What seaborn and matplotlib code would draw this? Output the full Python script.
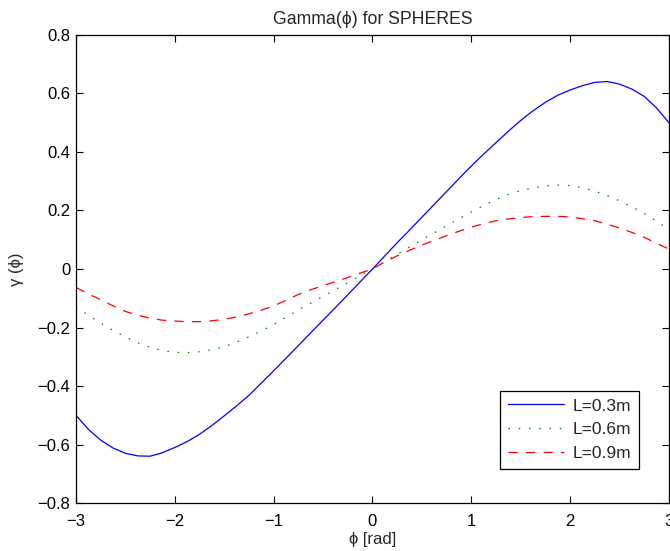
import numpy as np
import pandas as pd
import matplotlib
matplotlib.use("Agg")
import matplotlib.pyplot as plt
import seaborn as sns

phi = [-3.0, -2.875, -2.75, -2.625, -2.5, -2.375, -2.25, -2.125, -2.0, -1.875, -1.75, -1.625,
       -1.5, -1.375, -1.25, -1.125, -1.0, -0.875, -0.75, -0.625, -0.5, -0.375, -0.25, -0.125,
       0.0, 0.125, 0.25, 0.375, 0.5, 0.625, 0.75, 0.875, 1.0, 1.125, 1.25, 1.375,
       1.5, 1.625, 1.75, 1.875, 2.0, 2.125, 2.25, 2.375, 2.5, 2.625, 2.75, 2.875, 3.0]
gamma_03 = [-0.500, -0.548, -0.585, -0.612, -0.630, -0.639, -0.640, -0.628, -0.610, -0.590, -0.565, -0.535,
            -0.502, -0.468, -0.432, -0.390, -0.348, -0.305, -0.262, -0.218, -0.175, -0.132, -0.088, -0.044,
            0.000, 0.045, 0.090, 0.133, 0.177, 0.221, 0.265, 0.309, 0.352, 0.393, 0.432, 0.471,
            0.508, 0.541, 0.570, 0.594, 0.612, 0.627, 0.638, 0.641, 0.632, 0.615, 0.590, 0.550, 0.500]
gamma_06 = [-0.130, -0.158, -0.185, -0.210, -0.232, -0.252, -0.268, -0.279, -0.285, -0.286, -0.283, -0.276,
            -0.266, -0.250, -0.232, -0.212, -0.190, -0.165, -0.140, -0.117, -0.093, -0.070, -0.047, -0.023,
            0.000, 0.025, 0.050, 0.075, 0.100, 0.124, 0.148, 0.172, 0.195, 0.217, 0.238, 0.255,
            0.268, 0.277, 0.284, 0.287, 0.285, 0.278, 0.266, 0.251, 0.233, 0.212, 0.190, 0.163, 0.135]
gamma_09 = [-0.063, -0.085, -0.105, -0.126, -0.145, -0.158, -0.168, -0.175, -0.178, -0.180, -0.180, -0.177,
            -0.172, -0.164, -0.153, -0.141, -0.126, -0.107, -0.087, -0.071, -0.057, -0.043, -0.029, -0.014,
            0.000, 0.024, 0.045, 0.064, 0.082, 0.098, 0.114, 0.129, 0.143, 0.155, 0.165, 0.171,
            0.176, 0.179, 0.180, 0.180, 0.178, 0.172, 0.165, 0.153, 0.140, 0.125, 0.108, 0.088, 0.068]
labels = ["L=0.3m", "L=0.6m", "L=0.9m"]
xticks = [-3, -2, -1, 0, 1, 2, 3]
yticks = [-0.8, -0.6, -0.4, -0.2, 0, 0.2, 0.4, 0.6, 0.8]

sns.set_style("white")
plt.rcParams['font.family'] = ['Liberation Sans', 'DejaVu Sans']
plt.rcParams['axes.unicode_minus'] = True

fig = plt.figure(figsize=(6.7, 5.51), dpi=100)
ax = fig.add_axes([0.1134, 0.0871, 0.8851, 0.8494])

series = [(gamma_03, "#0000ff", "-"),
          (gamma_06, "#008000", (0, (1.2, 7))),
          (gamma_09, "#ff0000", (0, (7.5, 6.5)))]
for (vals, col, ls), lab in zip(series, labels):
    df = pd.DataFrame({"phi": phi, "gamma": vals})
    sns.lineplot(data=df, x="phi", y="gamma", ax=ax, color=col, linestyle=ls,
                 linewidth=0.9, label=lab)

ax.set_xlim(-3, 3)
ax.set_ylim(-0.8, 0.8)
ax.set_xticks(xticks)
ax.set_yticks(yticks)
ax.set_xticklabels([f"{t:g}".replace("-", "\u2212") for t in xticks])
ax.set_yticklabels([f"{t:g}".replace("-", "\u2212") for t in yticks])
ax.tick_params(direction="in", length=5, width=0.8, top=True, right=True,
               bottom=True, left=True, labelsize=12, colors="black")
ax.tick_params(axis="x", pad=8)
ax.tick_params(axis="y", pad=4)
for s in ax.spines.values():
    s.set_color("black")
    s.set_linewidth(0.9)

ax.set_title("Gamma(\u03d5) for SPHERES", fontsize=12.7, pad=8)
ax.set_xlabel("\u03d5 [rad]", fontsize=12, labelpad=2)
ax.set_ylabel("\u03b3 (\u03d5)", fontsize=12, labelpad=10)

leg = ax.legend(loc="lower right", bbox_to_anchor=(0.949, 0.0726), borderaxespad=0,
                fontsize=12.5, frameon=True, fancybox=False, edgecolor="black",
                framealpha=1, handlelength=3.2, borderpad=0.45, labelspacing=0.5,
                handletextpad=0.5)
leg.get_frame().set_linewidth(0.9)

fig.savefig("out.png", dpi=100)
